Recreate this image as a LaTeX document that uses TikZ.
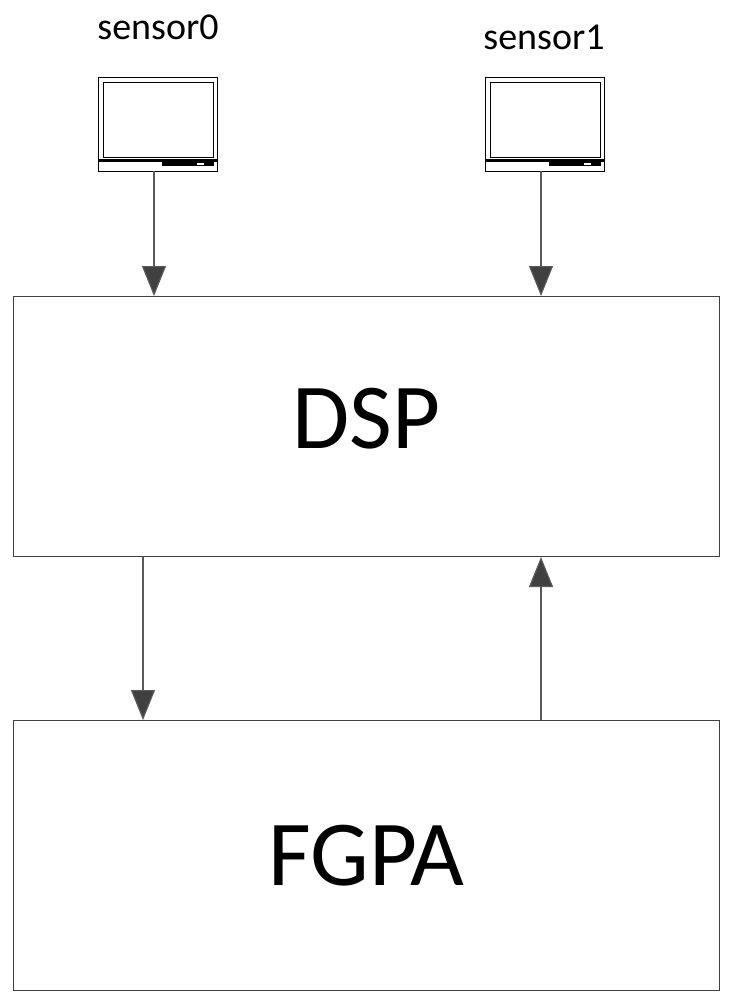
\documentclass[tikz,border=0pt]{standalone}
\usepackage{fontspec}
\setmainfont{Carlito}
\usetikzlibrary{arrows.meta}
\begin{document}
\begin{tikzpicture}[x=1pt,y=-1pt,
  box/.style={draw=black!75,line width=1pt},
  arr/.style={draw=black!65,line width=1.2pt,-{Triangle[length=30pt,width=24pt,fill=black!75]}},
  lbl/.style={font=\fontsize{38}{40}\selectfont},
  big/.style={font=\fontsize{93}{93}\selectfont}]
\useasboundingbox (0,0) rectangle (739,1003);
\foreach \n/\x/\y in {0/98/77,1/485/77}{
  \draw[line width=0.8pt] (\x,\y) rectangle (\x+119,\y+94);
  \draw[line width=0.8pt] (\x+5,\y+5) rectangle (\x+115,\y+80);
  \fill (\x,\y+82) rectangle (\x+119,\y+85);
  \fill (\x+64,\y+85) rectangle (\x+116,\y+89);
  \fill[white] (\x+99,\y+86) rectangle (\x+106,\y+88);
}
\node[lbl] (s0) at (158,27) {sensor0};
\node[lbl] (s1) at (544,37) {sensor1};
\node[box,minimum width=706pt,minimum height=260pt,anchor=north west] (dsp) at (13,296) {};
\node[big] at ([yshift=8pt]dsp.center) {DSP};
\node[box,minimum width=706pt,minimum height=270pt,anchor=north west] (fpga) at (13,720) {};
\node[big] at (fpga.center) {FGPA};
\coordinate (m0) at (154,171); \coordinate (m1) at (541,171);
\draw[arr] (m0) -- (m0 |- dsp.north);
\draw[arr] (m1) -- (m1 |- dsp.north);
\draw[arr] (dsp.south -| 143,0) -- (fpga.north -| 143,0);
\draw[arr] (fpga.north -| 541,0) -- (dsp.south -| 541,0);
\end{tikzpicture}
\end{document}
